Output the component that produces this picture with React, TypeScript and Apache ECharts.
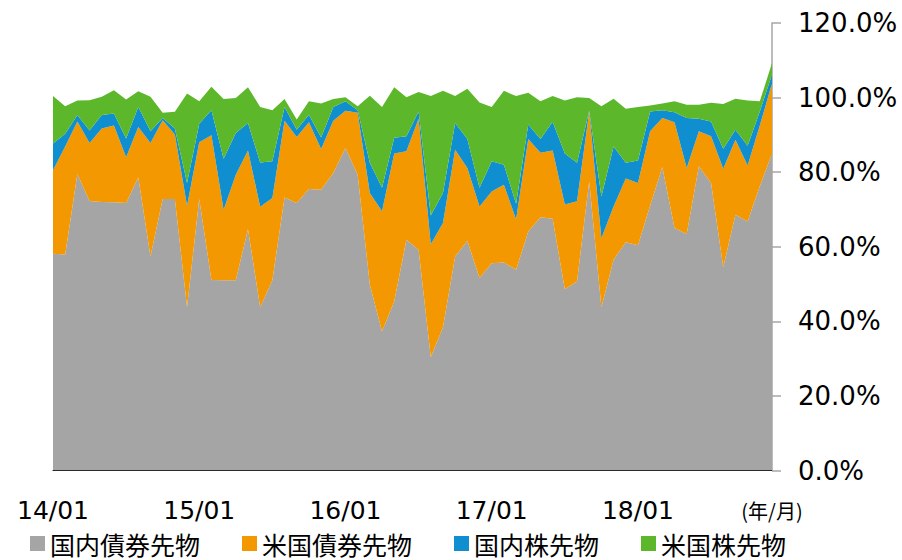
import React, { useEffect, useRef } from "react";
import * as echarts from "echarts";

const years = ["14", "15", "16", "17", "18"];
const months = ["01", "02", "03", "04", "05", "06", "07", "08", "09", "10", "11", "12"];
const categories: string[] = [];
years.forEach((y) => months.forEach((m) => categories.push(`${y}/${m}`)));
const unitLabel = "(年/月)";

const seriesNames = ["国内債券先物", "米国債券先物", "国内株先物", "米国株先物"];
const seriesColors = ["#A5A5A5", "#F39800", "#0F8ED0", "#5CB82A"];

const domesticBond = [
  58.1, 57.9, 79.5, 72.3, 72.0, 71.9, 71.7, 78.6, 57.4, 72.8, 72.8, 43.8,
  72.8, 51.1, 51.0, 51.0, 64.7, 43.8, 51.0, 73.2, 71.7, 75.5, 75.3, 79.8,
  86.5, 79.3, 49.8, 37.3, 45.3, 61.9, 59.2, 30.4, 38.4, 57.4, 61.6, 51.6,
  55.6, 55.8, 53.8, 64.1, 67.9, 67.5, 48.6, 50.7, 77.5, 43.8, 56.5, 61.2,
  60.4, 71.0, 81.4, 65.0, 63.4, 81.6, 77.1, 54.5, 68.6, 66.8, 76.2, 85.0,
];
const usBond = [
  22.4, 29.0, 14.1, 15.5, 19.7, 20.6, 12.3, 13.5, 30.4, 21.1, 17.3, 27.2,
  15.2, 38.8, 18.9, 28.3, 21.1, 26.9, 22.1, 20.6, 17.7, 17.9, 10.9, 14.0,
  10.0, 16.6, 24.6, 32.2, 39.7, 23.7, 35.1, 30.3, 28.0, 28.6, 19.5, 19.2,
  19.2, 20.8, 13.6, 24.8, 17.3, 18.3, 22.7, 21.5, 18.8, 18.5, 14.3, 17.1,
  16.7, 20.0, 13.1, 28.4, 17.7, 9.4, 12.5, 26.4, 20.1, 15.0, 16.3, 18.8,
];
const domesticEquity = [
  7.2, 3.4, 1.7, 3.4, 3.6, 3.2, 5.0, 5.4, 3.2, 0.6, 1.6, 6.1,
  5.0, 6.7, 13.7, 11.2, 7.4, 11.9, 9.8, 3.7, 2.0, 2.0, 3.1, 3.7,
  2.5, 0.7, 8.1, 6.3, 4.2, 4.0, 2.0, 7.7, 8.0, 7.2, 7.8, 5.0,
  8.1, 5.4, 4.1, 3.9, 3.7, 7.7, 13.7, 10.3, 0.2, 11.2, 16.1, 4.2,
  6.0, 5.3, 2.1, 2.7, 13.4, 3.3, 4.0, 5.4, 2.7, 5.3, 3.8, 2.4,
];
const usEquity = [
  12.7, 7.4, 3.9, 8.1, 4.9, 6.3, 10.5, 4.2, 9.2, 1.4, 4.5, 24.0,
  6.0, 6.3, 16.0, 9.4, 9.6, 14.9, 13.7, 2.1, 2.7, 3.6, 9.1, 2.1,
  1.1, 1.1, 18.0, 21.7, 13.6, 10.5, 5.2, 32.0, 27.4, 7.2, 13.5, 22.9,
  14.6, 19.8, 28.9, 8.5, 10.1, 6.9, 14.2, 17.6, 3.4, 24.2, 12.8, 14.5,
  14.4, 1.6, 1.8, 2.9, 3.6, 3.8, 5.0, 12.0, 8.3, 12.1, 2.7, 3.1,
];
const seriesValues = [domesticBond, usBond, domesticEquity, usEquity];

const yTicks = { min: 0, max: 120, interval: 20 };

export default function App() {
  const ref = useRef<HTMLDivElement>(null);
  useEffect(() => {
    if (!ref.current) return;
    const chart = echarts.init(ref.current, null, { renderer: "svg" });
    const last = categories.length - 1;
    chart.setOption({
      animation: false,
      backgroundColor: "#ffffff",
      grid: { left: 53, right: 130, top: 23, bottom: 89.5 },
      legend: {
        left: 25,
        top: 526,
        icon: "rect",
        itemWidth: 15,
        itemHeight: 15,
        itemGap: 42,
        textStyle: { fontSize: 25, lineHeight: 25, fontFamily: "Noto Sans CJK JP", color: "#000" },
        data: seriesNames,
      },
      xAxis: {
        type: "category",
        boundaryGap: false,
        data: categories,
        axisLine: { lineStyle: { color: "#000", width: 1 } },
        axisTick: { show: false },
        axisLabel: {
          interval: (i: number) => i % 12 === 0 || i === last,
          formatter: (v: string, i: number) => (i === last ? `{u|${unitLabel}}` : v),
          fontSize: 25,
          fontFamily: "DejaVu Sans",
          color: "#000",
          margin: 40,
          verticalAlign: "middle",
          rich: { u: { fontSize: 20, fontFamily: "Noto Sans CJK JP", color: "#000" } },
        },
      },
      yAxis: {
        type: "value",
        position: "right",
        min: yTicks.min,
        max: yTicks.max,
        interval: yTicks.interval,
        axisLine: { show: true, lineStyle: { color: "#A6A6A6", width: 1.5 } },
        axisTick: { show: true, length: 9, lineStyle: { color: "#A6A6A6", width: 1.5 } },
        splitLine: { show: false },
        axisLabel: {
          formatter: (v: number) => `${v.toFixed(1)}%`,
          fontSize: 26,
          fontFamily: "DejaVu Sans",
          color: "#000",
          margin: 26,
        },
      },
      series: seriesNames.map((name, k) => ({
        name,
        type: "line",
        stack: "total",
        data: seriesValues[k],
        symbol: "none",
        lineStyle: { width: 0 },
        itemStyle: { color: seriesColors[k] },
        areaStyle: { color: seriesColors[k], opacity: 1 },
      })),
    });
    return () => chart.dispose();
  }, []);
  return (
    <div
      ref={ref}
      style={{ position: "fixed", left: 0, top: 0, width: 902, height: 560, background: "#fff" }}
    />
  );
}
